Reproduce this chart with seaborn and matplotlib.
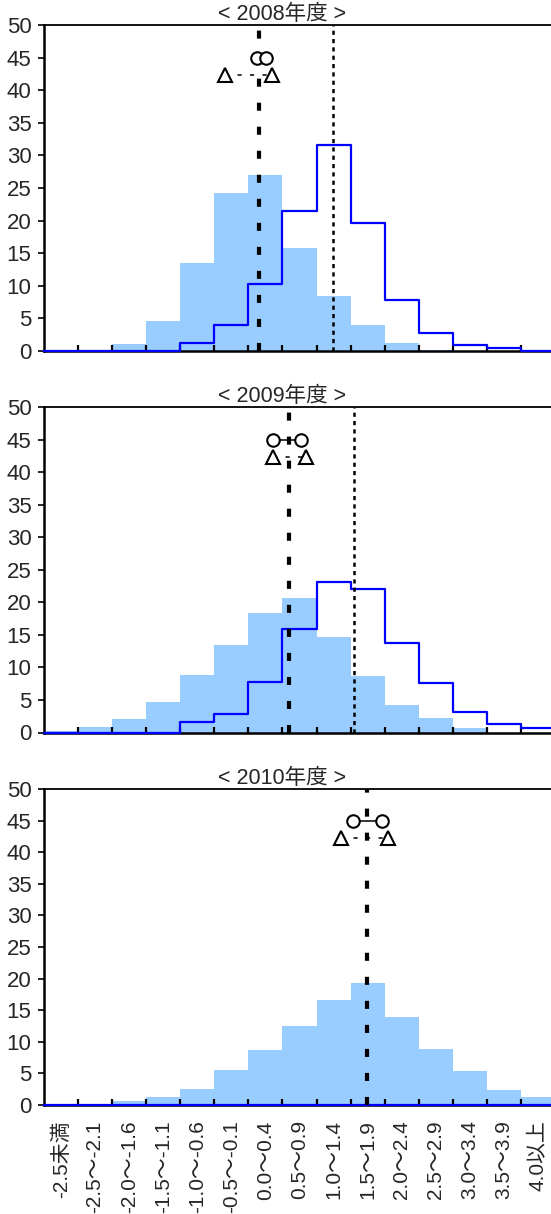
import numpy as np
import pandas as pd
import matplotlib
matplotlib.use("Agg")
import matplotlib.pyplot as plt
import seaborn as sns

# ---------------- data ----------------
categories = ["-2.5未満", "-2.5～-2.1", "-2.0～-1.6", "-1.5～-1.1", "-1.0～-0.6",
              "-0.5～-0.1", "0.0～0.4", "0.5～0.9", "1.0～1.4", "1.5～1.9",
              "2.0～2.4", "2.5～2.9", "3.0～3.4", "3.5～3.9", "4.0以上"]
years = ["2008", "2009", "2010"]

bars_2008 = [0.0, 0.1, 1.1, 4.6, 13.5, 24.2, 27.0, 15.8, 8.4, 4.0, 1.2, 0.1, 0.0, 0.0, 0.0]
step_2008 = [0.0, 0.0, 0.0, 0.0, 1.2, 4.0, 10.3, 21.4, 31.6, 19.7, 7.8, 2.7, 0.9, 0.4, 0.0]
bars_2009 = [0.2, 0.8, 2.0, 4.7, 8.8, 13.4, 18.3, 20.7, 14.6, 8.7, 4.2, 2.2, 0.7, 0.0, 0.0]
step_2009 = [0.0, 0.0, 0.0, 0.0, 1.6, 2.9, 7.8, 15.9, 23.1, 22.1, 13.7, 7.6, 3.1, 1.3, 0.7]
bars_2010 = [0.0, 0.1, 0.6, 1.3, 2.5, 5.5, 8.7, 12.5, 16.6, 19.3, 13.9, 8.9, 5.4, 2.4, 1.3]
step_2010 = [0.0, 0.0, 0.0, 0.0, 0.0, 0.0, 0.0, 0.0, 0.0, 0.0, 0.0, 0.0, 0.0, 0.0, 0.0]

# reference lines (in category-axis units, category i centred on i)
mean_dashed = [5.80, 6.70, 8.99]
mean_dotted = [7.98, 8.60, None]
# interval markers (category-axis units) and their heights
circle_lo = [5.75, 6.23, 8.58]
circle_hi = [6.01, 7.04, 9.41]
tri_lo = [4.82, 6.21, 8.21]
tri_hi = [6.20, 7.19, 9.61]
circle_y = 45.0
tri_y = 42.3

bars_all = [bars_2008, bars_2009, bars_2010]
steps_all = [step_2008, step_2009, step_2010]

# ---------------- style ----------------
sns.set_style("white")
plt.rcParams["font.family"] = ["Liberation Sans", "Noto Sans CJK JP", "DejaVu Sans"]
plt.rcParams["lines.scale_dashes"] = False

W, H = 551, 1214
fig = plt.figure(figsize=(W / 100, H / 100), dpi=100)

# panel boxes in pixels: (top, bottom)
boxes = [(25, 351), (407, 732.5), (789, 1105)]
left_px, right_px = 44, 555

FS_Y = 16
FS_X = 15
FS_T = 15.5
bar_color = "#99CCFF"
step_color = "#0000FF"

for k, (top, bot) in enumerate(boxes):
    ax = fig.add_axes([left_px / W, 1 - bot / H, (right_px - left_px) / W, (bot - top) / H])
    ax.set_axisbelow(False)
    df = pd.DataFrame({"cat": categories, "count": bars_all[k]})
    sns.barplot(data=df, x="cat", y="count", order=categories, color=bar_color,
                saturation=1, width=1.0, linewidth=0, ax=ax, zorder=1)

    edges = np.arange(len(categories) + 1) - 0.5
    yv = list(steps_all[k]) + [steps_all[k][-1]]
    sdf = pd.DataFrame({"x": edges, "y": yv})
    sns.lineplot(data=sdf, x="x", y="y", drawstyle="steps-post", color=step_color,
                 linewidth=1.6, estimator=None, sort=False, ax=ax, zorder=4, clip_on=False)

    ax.axvline(mean_dashed[k], color="black", linewidth=3.0, dashes=(5.8, 11.5), zorder=5)
    if mean_dotted[k] is not None:
        ax.axvline(mean_dotted[k], color="black", linewidth=1.8, dashes=(3.0, 3.0), zorder=5)

    cdf = pd.DataFrame({"x": [circle_lo[k], circle_hi[k]], "y": [circle_y, circle_y]})
    sns.lineplot(data=cdf, x="x", y="y", color="black", linewidth=1.1, marker="o",
                 markersize=9, markerfacecolor="white", markeredgecolor="black",
                 markeredgewidth=1.5, estimator=None, sort=False, ax=ax, zorder=6)
    tdf = pd.DataFrame({"x": [tri_lo[k], tri_hi[k]], "y": [tri_y, tri_y]})
    sns.lineplot(data=tdf, x="x", y="y", color="black", linewidth=1.1, marker="^",
                 markersize=10, markerfacecolor="white", markeredgecolor="black",
                 markeredgewidth=1.5, dashes=False, linestyle=(0, (3, 6)),
                 estimator=None, sort=False, ax=ax, zorder=6)

    ax.set_xlim(-0.5, len(categories) - 0.5)
    ax.set_ylim(0, 50)
    ax.set_yticks(np.arange(0, 51, 5))
    ax.set_yticklabels([str(v) for v in range(0, 51, 5)], fontsize=FS_Y)
    ax.tick_params(axis="y", direction="out", length=4, width=1.2, pad=5, color="black",
                   left=True)
    ax.set_xticks(np.arange(len(categories)))
    if k == 2:
        ax.set_xticklabels(categories, rotation=90, fontsize=FS_X)
    else:
        ax.set_xticklabels([])
    ax.tick_params(axis="x", which="major", length=0, pad=11)
    ax.set_xticks(np.arange(0.5, len(categories) - 1, 1.0), minor=True)
    ax.tick_params(axis="x", which="minor", direction="in", length=4, width=1.6,
                   color="black", bottom=True)
    ax.set_xlabel("")
    ax.set_ylabel("")
    for side in ["left", "bottom"]:
        ax.spines[side].set_color("black")
        ax.spines[side].set_linewidth(1.8)
        ax.spines[side].set_zorder(3)
    ax.spines["top"].set_color("black")
    ax.spines["top"].set_linewidth(1.3)
    ax.spines["right"].set_visible(False)
    ax.grid(False)
    ax.set_facecolor("white")

    ax.text(0.466, 1 + 5 / (bot - top), f"< {years[k]}年度 >", transform=ax.transAxes,
            ha="center", va="baseline", fontsize=FS_T)

fig.savefig("out.png", dpi=100, facecolor="white")
